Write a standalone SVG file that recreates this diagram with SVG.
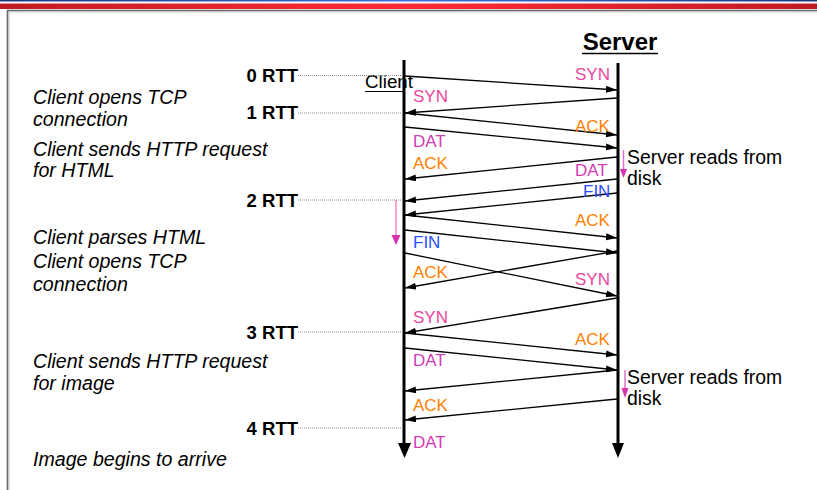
<svg xmlns="http://www.w3.org/2000/svg" width="817" height="490" viewBox="0 0 817 490">
<style>
.it{font-family:"Liberation Sans",Arial,sans-serif;font-style:italic;font-size:19.6px;fill:#000}
.rtt{font-family:"Liberation Sans",Arial,sans-serif;font-weight:bold;font-size:18.5px;fill:#000;text-anchor:end}
.lb{font-family:"Liberation Sans",Arial,sans-serif;font-size:17px}
.syn{fill:#e8489e}.dat{fill:#d43cb4}.ack{fill:#ff8000}.fin{fill:#2b50ff}
.msg{stroke:#000;stroke-width:1.3;fill:none;marker-end:url(#ah)}
.dot{stroke:#888;stroke-width:1;stroke-dasharray:1,1}
.life{stroke:#000;stroke-width:3}
.note{font-family:"Liberation Sans",Arial,sans-serif;font-size:19.4px;fill:#000}
</style>
<defs>
<linearGradient id="red" x1="0" x2="1" y1="0" y2="0">
<stop offset="0" stop-color="#c01a22"/><stop offset="0.5" stop-color="#ff2a35"/><stop offset="1" stop-color="#c01a22"/>
</linearGradient>
<linearGradient id="blue" x1="0" x2="1" y1="0" y2="0">
<stop offset="0" stop-color="#1f3a85"/><stop offset="0.5" stop-color="#3f72dd"/><stop offset="1" stop-color="#1f3a85"/>
</linearGradient>
<marker id="ah" markerUnits="userSpaceOnUse" markerWidth="12" markerHeight="8" refX="11" refY="3.5" orient="auto">
<path d="M0,0 L11,3.5 L0,7 z" fill="#000"/>
</marker>
</defs>
<g id="frame">
<rect x="0" y="0" width="817" height="1.5" fill="url(#blue)"/>
<rect x="0" y="3.5" width="817" height="5.5" fill="url(#red)"/>
<path d="M7.5,490 V10.5 H817" fill="none" stroke="#666" stroke-width="1.6"/>
<path d="M9,490 V12 H817" fill="none" stroke="#bbb" stroke-width="0.8"/>
</g>
<g id="server">
<text x="620" y="50" text-anchor="middle" font-family="Liberation Sans, Arial, sans-serif" font-weight="bold" font-size="24px">Server</text>
<line x1="582" y1="53.5" x2="658" y2="53.5" stroke="#000" stroke-width="1.5"/>
<line class="life" x1="618" y1="63" x2="618" y2="444"/>
<path d="M612,443 L624,443 L618,458 z" fill="#000"/>
</g>
<g id="client">
<text x="365" y="88" font-family="Liberation Sans, Arial, sans-serif" font-size="18.8px">Client</text>
<line x1="365" y1="91.5" x2="404" y2="91.5" stroke="#000" stroke-width="1.2"/>
<line class="life" x1="404" y1="60" x2="404" y2="444"/>
<path d="M398,443 L411,443 L404.5,458 z" fill="#000"/>
</g>
<g id="rtt">
<text class="rtt" x="298" y="82">0 RTT</text>
<text class="rtt" x="298" y="119">1 RTT</text>
<text class="rtt" x="298" y="207">2 RTT</text>
<text class="rtt" x="298" y="339">3 RTT</text>
<text class="rtt" x="298" y="435">4 RTT</text>
</g>
<g id="steps">
<text class="it" x="33" y="104">Client opens TCP</text>
<text class="it" x="33" y="126">connection</text>
<text class="it" x="33" y="156">Client sends HTTP request</text>
<text class="it" x="33" y="177">for HTML</text>
<text class="it" x="33" y="244">Client parses HTML</text>
<text class="it" x="33" y="268">Client opens TCP</text>
<text class="it" x="33" y="291">connection</text>
<text class="it" x="33" y="368">Client sends HTTP request</text>
<text class="it" x="33" y="390">for image</text>
<text class="it" x="33" y="466">Image begins to arrive</text>
</g>
<g id="notes">
<line x1="623.5" y1="150" x2="623.5" y2="170" stroke="#e070c8" stroke-width="1.5"/>
<path d="M620,169 L627,169 L623.5,178 z" fill="#d633b0"/>
<text class="note" x="627" y="164">Server reads from</text>
<text class="note" x="627" y="185">disk</text>
<line x1="625" y1="370" x2="625" y2="389" stroke="#e070c8" stroke-width="1.5"/>
<path d="M621.5,388 L628.5,388 L625,398 z" fill="#d633b0"/>
<text class="note" x="627" y="384">Server reads from</text>
<text class="note" x="627" y="405">disk</text>
<line x1="396" y1="200" x2="396" y2="236" stroke="#ee88cc" stroke-width="1.5"/>
<path d="M391.5,235 L400.5,235 L396,245 z" fill="#d633b0"/>
</g>
<g id="connectors">
<line class="dot" x1="298" y1="75.5" x2="404" y2="75.5"/>
<line class="dot" x1="298" y1="113" x2="404" y2="113"/>
<line class="dot" x1="298" y1="200" x2="404" y2="200"/>
<line class="dot" x1="298" y1="332" x2="404" y2="332"/>
<line class="dot" x1="298" y1="428" x2="404" y2="428"/>
<line class="msg" x1="405" y1="76" x2="617" y2="90"/>
<line class="msg" x1="617" y1="98" x2="405" y2="113"/>
<line class="msg" x1="405" y1="113" x2="617" y2="135"/>
<line class="msg" x1="405" y1="127" x2="617" y2="148"/>
<line class="msg" x1="617" y1="157" x2="405" y2="179"/>
<line class="msg" x1="617" y1="179" x2="405" y2="201"/>
<line class="msg" x1="617" y1="193" x2="405" y2="215"/>
<line class="msg" x1="405" y1="215" x2="617" y2="238"/>
<line class="msg" x1="405" y1="230" x2="617" y2="253"/>
<line class="msg" x1="617" y1="251" x2="405" y2="288"/>
<line class="msg" x1="405" y1="253" x2="617" y2="296"/>
<line class="msg" x1="617" y1="298" x2="405" y2="333"/>
<line class="msg" x1="405" y1="333" x2="617" y2="355"/>
<line class="msg" x1="405" y1="348" x2="617" y2="370"/>
<line class="msg" x1="617" y1="370" x2="405" y2="391"/>
<line class="msg" x1="617" y1="399" x2="405" y2="420"/>
</g>
<g id="labels">
<text class="lb syn" x="575" y="80">SYN</text>
<text class="lb syn" x="413" y="102">SYN</text>
<text class="lb ack" x="575" y="131.5">ACK</text>
<text class="lb dat" x="413" y="146.5">DAT</text>
<text class="lb ack" x="413" y="169">ACK</text>
<text class="lb dat" x="575" y="175.5">DAT</text>
<text class="lb fin" x="583" y="196.5">FIN</text>
<text class="lb ack" x="575" y="225.5">ACK</text>
<text class="lb fin" x="413" y="248">FIN</text>
<text class="lb ack" x="413" y="278">ACK</text>
<text class="lb syn" x="575" y="285">SYN</text>
<text class="lb syn" x="413" y="322.5">SYN</text>
<text class="lb ack" x="575" y="345">ACK</text>
<text class="lb dat" x="413" y="366">DAT</text>
<text class="lb ack" x="413" y="410.5">ACK</text>
<text class="lb dat" x="413" y="448">DAT</text>
</g>
</svg>
